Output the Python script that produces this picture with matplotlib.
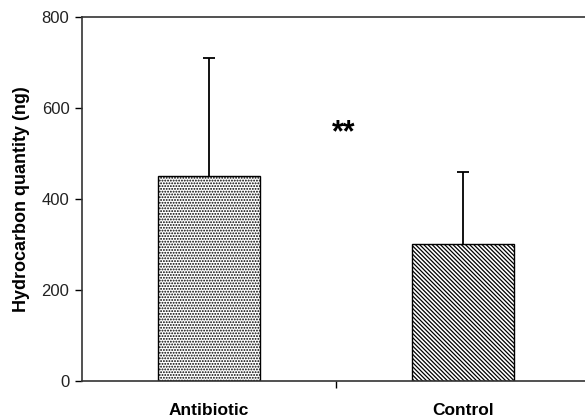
import matplotlib
matplotlib.use("Agg")
import matplotlib.pyplot as plt
import numpy as np

plt.rcParams["font.family"] = ["Liberation Sans", "DejaVu Sans"]
plt.rcParams["hatch.linewidth"] = 0.9

categories = ["Antibiotic", "Control"]
means = [450, 300]
errors_up = [260, 160]
hatches = ["......", "\\\\\\\\\\\\\\\\"]
y_ticks = [0, 200, 400, 600, 800]
signif_label = "**"
signif_y = 545

fig = plt.figure(figsize=(5.85, 4.19), dpi=100)
ax = fig.add_axes([0.140, 0.0907, 0.868, 0.869])

x = np.array([0.5, 1.5])
for xi, m, e, h in zip(x, means, errors_up, hatches):
    ax.bar(xi, m, width=0.4, color="white", edgecolor="black", hatch=h,
           linewidth=1.0, zorder=2)
    # upper error bar only
    ax.vlines(xi, m, m + e, color="black", linewidth=1.3, zorder=3)
    ax.plot([xi], [m + e], marker="_", markersize=9, markeredgewidth=1.3,
            color="black", zorder=3)

ax.text(1.03, signif_y, signif_label, ha="center", va="center",
        fontsize=22, fontweight="bold")

ax.set_xlim(0, 2)
ax.set_ylim(0, 800)
ax.set_yticks(y_ticks)
ax.set_xticks([1.0])
ax.set_xticklabels([""])
ax.tick_params(axis="y", direction="out", length=5, width=1, labelsize=12,
               labelcolor="#222222", pad=4)
ax.tick_params(axis="x", direction="out", length=5, width=1)
for xi, c in zip(x, categories):
    ax.text(xi, -0.08, c, transform=ax.get_xaxis_transform(), ha="center",
            va="center", fontsize=12.5, fontweight="bold")

ax.spines["right"].set_visible(False)
for s in ["left", "bottom", "top"]:
    ax.spines[s].set_linewidth(1.2)
    ax.spines[s].set_color("#333333")

ax.set_ylabel("Hydrocarbon quantity (ng)", fontsize=13, fontweight="bold",
              labelpad=8)

fig.savefig("out.png", dpi=100)
